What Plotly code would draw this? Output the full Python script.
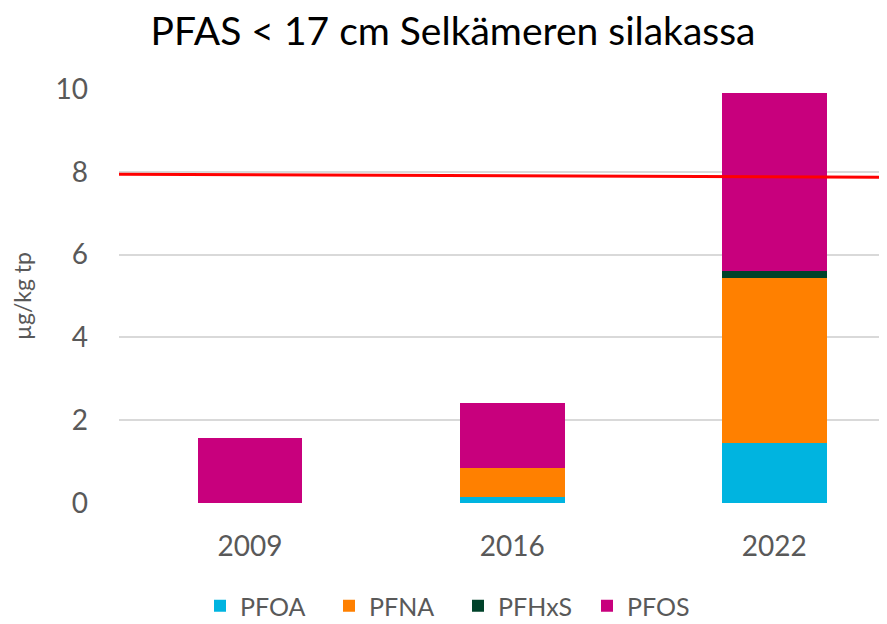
import plotly.graph_objects as go

years = ["2009", "2016", "2022"]
pfoa = [0.0, 0.15, 1.46]
pfna = [0.0, 0.70, 3.97]
pfhxs = [0.0, 0.0, 0.18]
pfos = [1.56, 1.57, 4.30]
limit_left = 7.94
limit_right = 7.87

series = [
    ("PFOA", pfoa, "#00B4E0"),
    ("PFNA", pfna, "#FF8000"),
    ("PFHxS", pfhxs, "#00422A"),
    ("PFOS", pfos, "#C8007D"),
]

FONT = "Lato, Open Sans, sans-serif"
OFF = 8  # page body margin offset
W, H = 887 - OFF, 624 - OFF

fig = go.Figure()
for name, vals, col in series:
    fig.add_trace(go.Bar(x=[0, 1, 2], y=vals, name=name, marker=dict(color=col, line=dict(width=0)),
                         width=0.4))

fig.add_shape(type="line", xref="x", yref="y", x0=-0.5, x1=2.45, y0=limit_left, y1=limit_right,
              line=dict(color="#FF0000", width=3), layer="above")

fig.update_layout(
    barmode="stack",
    width=W, height=H,
    margin=dict(l=119 - OFF, r=0, t=89 - OFF, b=H - (503 - OFF)),
    paper_bgcolor="white", plot_bgcolor="white",
    title=dict(text="PFAS < 17 cm Selkämeren silakassa", x=(453 - OFF) / W, xanchor="center",
               xref="container", y=1 - (31 - OFF) / H, yref="container", yanchor="middle",
               font=dict(family=FONT, size=39, color="#000000")),
    xaxis=dict(range=[-0.5, 2.43], tickmode="array", tickvals=[0, 1, 2], ticktext=years,
               showgrid=False, zeroline=False, showline=False, ticks="",
               tickfont=dict(family=FONT, size=28, color="#595959"), ticklabelstandoff=24),
    yaxis=dict(range=[0, 10], dtick=2, showgrid=True, gridcolor="#D9D9D9", gridwidth=1.5,
               zeroline=False, showline=False, ticks="",
               tickfont=dict(family=FONT, size=28, color="#595959"), ticklabelstandoff=30,
               title=dict(text="µg/kg tp", font=dict(family=FONT, size=23, color="#595959"), standoff=20)),
    legend=dict(orientation="h", x=(458 - OFF) / W, xanchor="center", xref="container",
                y=1 - (606 - OFF) / H, yref="container", yanchor="middle",
                font=dict(family=FONT, size=25, color="#595959"), traceorder="normal",
                itemsizing="constant", entrywidth=84, entrywidthmode="pixels"),
    showlegend=True,
)
fig.write_html("out.html")
